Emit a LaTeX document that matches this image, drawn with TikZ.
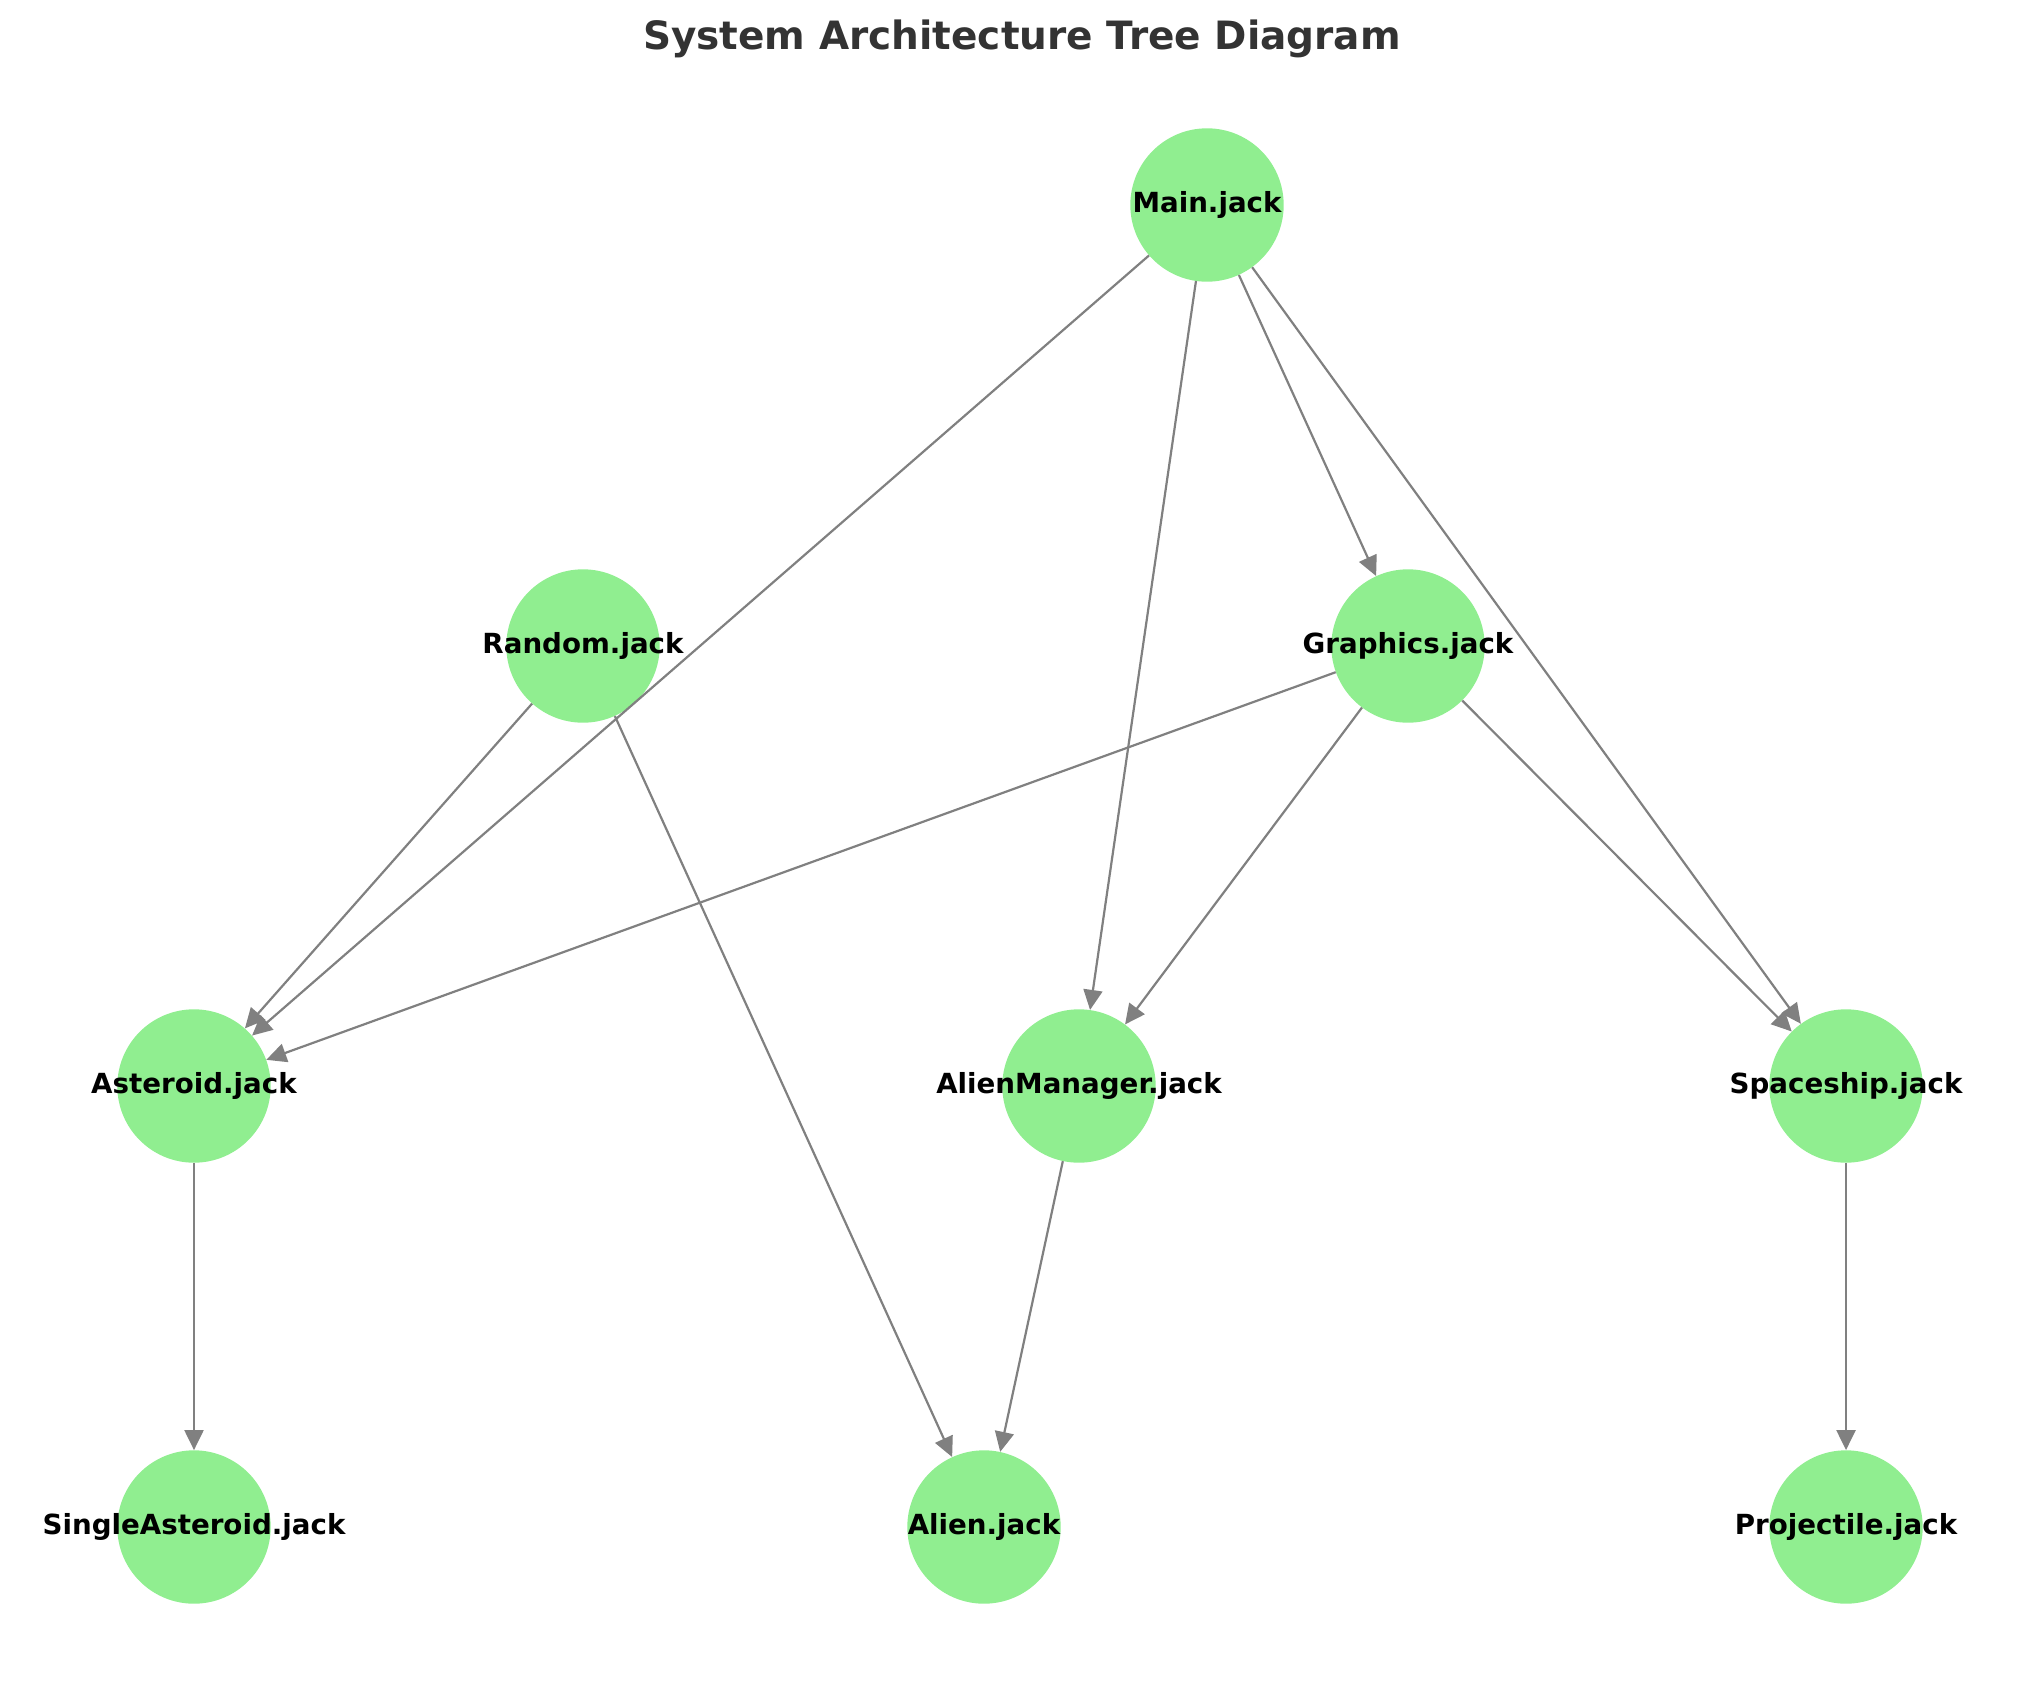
\documentclass[tikz,border=0pt]{standalone}
\usepackage{fontspec}
\setmainfont{DejaVu Sans}
\usepackage{tikz}
\usetikzlibrary{arrows.meta, positioning}
\definecolor{lightgreen}{HTML}{90EE90}
\definecolor{titlegray}{HTML}{333333}

\begin{document}
\begin{tikzpicture}[x=1pt, y=-1pt,
    file/.style={circle, fill=lightgreen, draw=none, inner sep=0pt, minimum size=153.4pt},
    lbl/.style={inner sep=0pt, font=\fontsize{27.7}{30}\selectfont\bfseries},
    every edge/.style={draw, gray, line width=2.2pt, -{Triangle[length=20pt, width=19pt]}}]
    \useasboundingbox (0,0) rectangle (2039,1686);

    \node[anchor=base, text=titlegray, font=\fontsize{39}{44}\selectfont\bfseries] (t) at (1022,50) {System Architecture Tree Diagram};

    \node[file, label={[lbl]center:Main.jack}] (0) at (1207,205) {};
    \node[file, label={[lbl]center:Random.jack}] (1) at (583,646) {};
    \node[file, label={[lbl]center:Graphics.jack}] (2) at (1408,646) {};
    \node[file, label={[lbl]center:Asteroid.jack}] (3) at (194,1086) {};
    \node[file, label={[lbl]center:AlienManager.jack}] (4) at (1079,1086) {};
    \node[file, label={[lbl]center:Spaceship.jack}] (5) at (1846,1086) {};
    \node[file, label={[lbl]center:SingleAsteroid.jack}] (6) at (194,1527) {};
    \node[file, label={[lbl]center:Alien.jack}] (7) at (984,1527) {};
    \node[file, label={[lbl]center:Projectile.jack}] (8) at (1846,1527) {};

    \draw
        (0) edge (3)
        (0) edge (4)
        (0) edge (2)
        (0) edge (5)
        (1) edge (3)
        (1) edge (7)
        (2) edge (3)
        (2) edge (4)
        (2) edge (5)
        (3) edge (6)
        (4) edge (7)
        (5) edge (8)
       ;
\end{tikzpicture}
\end{document}
